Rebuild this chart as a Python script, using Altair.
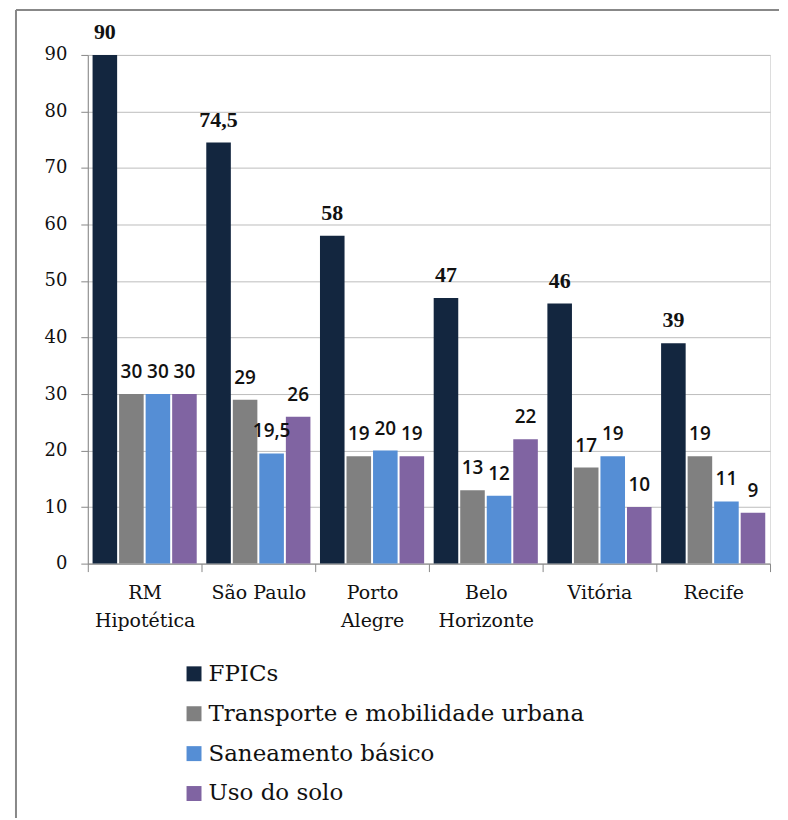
import altair as alt
import pandas as pd

cities = ["RM|Hipotética", "São Paulo", "Porto|Alegre", "Belo|Horizonte", "Vitória", "Recife"]
series = ["FPICs", "Transporte e mobilidade urbana", "Saneamento básico", "Uso do solo"]
fpics = [90, 74.5, 58, 47, 46, 39]
transporte = [30, 29, 19, 13, 17, 19]
saneamento = [30, 19.5, 20, 12, 19, 11]
uso = [30, 26, 19, 22, 10, 9]
colors = ["#13263f", "#808080", "#558ed5", "#8064a2"]
y_ticks = [0, 10, 20, 30, 40, 50, 60, 70, 80, 90]


def fmt(v):
    if float(v).is_integer():
        return str(int(v))
    return str(v).replace(".", ",")


rows = []
for s, vals in zip(series, [fpics, transporte, saneamento, uso]):
    for c, v in zip(cities, vals):
        rows.append({"cidade": c, "serie": s, "valor": v, "rotulo": fmt(v)})
df = pd.DataFrame(rows)

W, H = 684, 510
SERIF = "DejaVu Serif"
SANS = "Open Sans"

x = alt.X("cidade:N", sort=cities, title=None,
          scale=alt.Scale(paddingInner=0, paddingOuter=0),
          axis=alt.Axis(labelExpr="split(datum.label, '|')", labelAngle=0,
                        labelFont=SERIF, labelFontSize=19, labelColor="#111",
                        labelLineHeight=28, labelPadding=12, tickBand="extent",
                        tickSize=8, tickColor="#888", domainColor="#888",
                        grid=False, labelBaseline="top"))
xo = alt.XOffset("serie:N", sort=series,
                 scale=alt.Scale(domain=series, paddingInner=0.074,
                                 paddingOuter=0.18))
y = alt.Y("valor:Q", title=None,
          scale=alt.Scale(domain=[0, 90], nice=False),
          axis=alt.Axis(values=y_ticks, labelFont=SERIF, labelFontSize=18,
                        labelColor="#111", labelPadding=14, tickSize=7,
                        tickColor="#888", domainColor="#888",
                        gridColor="#bdbdbd", grid=True))

bars = alt.Chart(df).mark_bar().encode(
    x=x, xOffset=xo, y=y,
    color=alt.Color("serie:N", sort=series,
                    scale=alt.Scale(domain=series, range=colors),
                    legend=alt.Legend(title=None, orient="none", legendX=95,
                                      legendY=609, direction="vertical",
                                      symbolType="square", symbolSize=225,
                                      symbolStrokeWidth=0, labelFont=SERIF,
                                      labelFontSize=23, labelColor="#111",
                                      labelLimit=0, rowPadding=16,
                                      labelOffset=3)),
)

labels_f = alt.Chart(df).transform_filter(alt.datum.serie == "FPICs").mark_text(
    font="Liberation Serif", fontSize=22, fontWeight="bold",
    baseline="alphabetic", dy=-16, color="#111"
).encode(x=x, xOffset=xo, y=y, text="rotulo:N")

labels_o = alt.Chart(df).transform_filter(alt.datum.serie != "FPICs").mark_text(
    font=SANS, fontSize=19, fontWeight=600, baseline="alphabetic", dy=-16,
    color="#111"
).encode(x=x, xOffset=xo, y=y, text="rotulo:N")

frame_data = alt.Data(values=[{"a": 1}])
top_line = alt.Chart(frame_data).mark_rule(color="#888", strokeWidth=2).encode(
    x=alt.value(-72), x2=alt.value(693), y=alt.value(-45))
left_line = alt.Chart(frame_data).mark_rule(color="#888", strokeWidth=2).encode(
    x=alt.value(-72), y=alt.value(-45), y2=alt.value(765))

chart = alt.layer(bars, labels_f, labels_o, top_line, left_line).properties(
    width=W, height=H,
    padding={"left": 7, "top": 0, "right": 0, "bottom": 0},
).configure_view(stroke=None).configure(background="white")

chart.save("out.html", embed_options={"renderer": "svg", "actions": False})
